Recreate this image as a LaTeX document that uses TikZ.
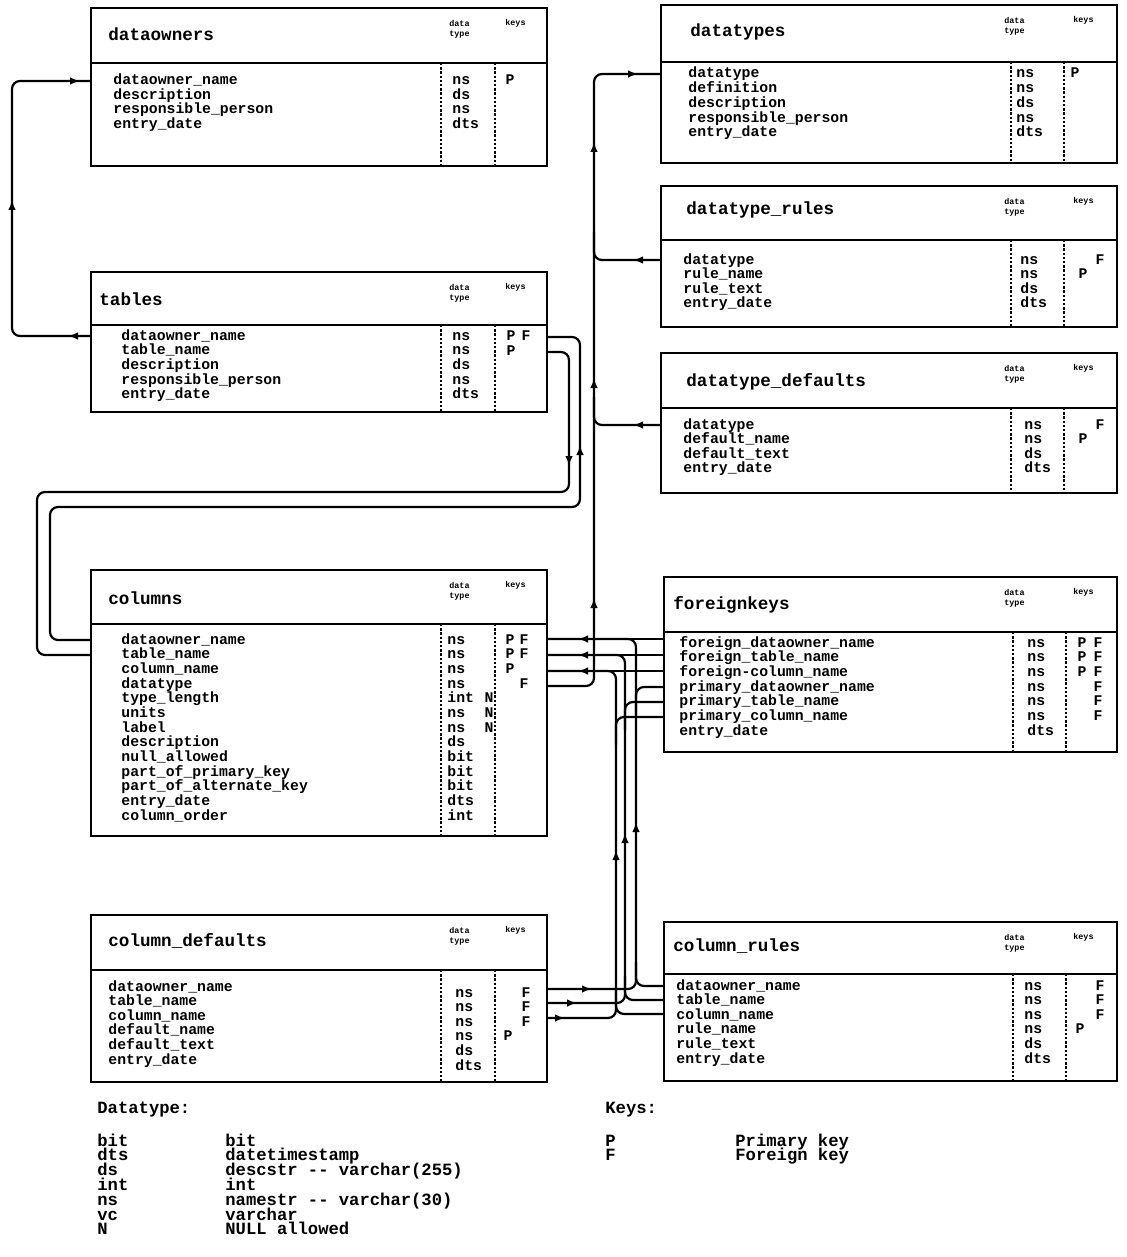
\documentclass[tikz,border=0pt]{standalone}
\usepackage{fontspec}
\setmonofont{Liberation Mono}
\usetikzlibrary{arrows.meta}
\tikzset{
 boxline/.style={line width=1.2pt},
 divline/.style={line width=0.7pt, dash pattern=on 1.2pt off 0.9pt},
 conn/.style={line width=1.1pt, rounded corners=4pt},
 tipline/.style={line width=1.1pt, -{Latex[length=5pt,width=3.8pt]}},
 ttl/.style={anchor=west, inner sep=0pt, font=\ttfamily\bfseries\fontsize{8.8}{9}\selectfont},
 rowt/.style={anchor=base west, inner sep=0pt, font=\ttfamily\bfseries\fontsize{7.4}{8}\selectfont},
 hdrt/.style={anchor=north west, inner sep=0pt, align=left, font=\ttfamily\bfseries\fontsize{4.2}{4.8}\selectfont},
 keyt/.style={anchor=base, inner sep=0pt, font=\ttfamily\bfseries\fontsize{7.4}{8}\selectfont},
 legt/.style={anchor=base west, inner sep=0pt, font=\ttfamily\bfseries\fontsize{8.6}{9}\selectfont},
}
% #1 prefix, #2 x1, #3 top, #4 header line, #5 x2, #6 bottom, #7 divider 1, #8 divider 2
\newcommand{\erbox}[8]{%
 \draw[boxline] (#2,#3) rectangle (#5,#6);
 \draw[boxline] (#2,#4) -- (#5,#4);
 \draw[divline] (#7,#4) -- (#7,#6);
 \draw[divline] (#8,#4) -- (#8,#6);
 \node[hdrt] (#1-hd) at (\datax,{#3+12}) {data\\type};
 \node[hdrt] (#1-hk) at (\keysx,{#3+11}) {keys};
}
% #1 name prefix, #2 x, #3 first y (text centre), #4 step, #5 list
\newcommand{\ercol}[5]{%
 \foreach \t [count=\i] in {#5} {\node[rowt] (#1\i) at (#2,{#3+4+(\i-1)*#4}) {\t};}
}
\newcommand{\lgcol}[5]{%
 \foreach \t [count=\i] in {#5} {\node[legt] (#1\i) at (#2,{#3+5+(\i-1)*#4}) {\t};}
}
% key letter at text centre
\newcommand{\keyat}[4]{\node[keyt] (#1) at (#2,{#3+4}) {#4};}
\newcommand{\arrowat}[4]{\draw[tipline] (#1,#2) -- ++(#3,#4);}
\begin{document}
\begin{tikzpicture}[x=0.5pt,y=-0.5pt]
\fill[white] (0,0) rectangle (1127,1257);
\useasboundingbox (0,0) rectangle (1127,1257);

% ---------------- left tables ----------------
\def\datax{449}\def\keysx{505}
% dataowners
\erbox{dto}{91}{8}{63}{547}{166}{441}{495}
\node[ttl] (dto-t) at (108,34) {dataowners};
\ercol{dto-n}{113}{81}{14.5}{dataowner\_name,description,responsible\_person,entry\_date}
\ercol{dto-d}{452}{81}{14.5}{ns,ds,ns,dts}
\keyat{dto-k1}{510}{81}{P}

% tables
\erbox{tbl}{91}{272}{325}{547}{412}{441}{495}
\node[ttl] (tbl-t) at (99,299) {tables};
\ercol{tbl-n}{121}{336}{14.7}{dataowner\_name,table\_name,description,responsible\_person,entry\_date}
\ercol{tbl-d}{452}{336}{14.7}{ns,ns,ds,ns,dts}
\keyat{tbl-k1}{511}{336}{P}
\keyat{tbl-k2}{526}{336}{F}
\keyat{tbl-k3}{511}{351}{P}

% columns
\erbox{col}{91}{570}{624}{547}{836}{441}{495}
\node[ttl] (col-t) at (108,598) {columns};
\ercol{col-n}{121}{640}{14.67}{dataowner\_name,table\_name,column\_name,datatype,type\_length,units,label,description,null\_allowed,part\_of\_primary\_key,part\_of\_alternate\_key,entry\_date,column\_order}
\ercol{col-d}{447}{640}{14.67}{ns,ns,ns,ns,int,ns,ns,ds,bit,bit,bit,dts,int}
\keyat{col-nn1}{489}{698.7}{N}
\keyat{col-nn2}{489}{713.4}{N}
\keyat{col-nn3}{489}{728}{N}
\keyat{col-k1}{510}{640}{P}
\keyat{col-k2}{524}{640}{F}
\keyat{col-k3}{510}{654.7}{P}
\keyat{col-k4}{524}{654.7}{F}
\keyat{col-k5}{510}{669.3}{P}
\keyat{col-k6}{524}{684}{F}

% column_defaults
\erbox{cd}{91}{915}{970}{547}{1082}{441}{495}
\node[ttl] (cd-t) at (108,941) {column\_defaults};
\ercol{cd-n}{108}{987}{14.6}{dataowner\_name,table\_name,column\_name,default\_name,default\_text,entry\_date}
\ercol{cd-d}{455}{993}{14.6}{ns,ns,ns,ns,ds,dts}
\keyat{cd-k1}{526}{993}{F}
\keyat{cd-k2}{526}{1007.6}{F}
\keyat{cd-k3}{526}{1022.2}{F}
\keyat{cd-k4}{508}{1036.8}{P}

% ---------------- right tables ----------------
\def\datax{1004}\def\keysx{1073}
% datatypes
\erbox{dt}{661}{5}{62}{1117}{163}{1011}{1064}
\node[ttl] (dt-t) at (690,32) {datatypes};
\ercol{dt-n}{688}{74}{14.7}{datatype,definition,description,responsible\_person,entry\_date}
\ercol{dt-d}{1016}{74}{14.7}{ns,ns,ds,ns,dts}
\keyat{dt-k1}{1075}{74}{P}

% datatype_rules
\erbox{dtr}{661}{186}{240}{1117}{327}{1011}{1064}
\node[ttl] (dtr-t) at (686,210) {datatype\_rules};
\ercol{dtr-n}{683}{260}{14.5}{datatype,rule\_name,rule\_text,entry\_date}
\ercol{dtr-d}{1020}{260}{14.5}{ns,ns,ds,dts}
\keyat{dtr-k1}{1100}{260}{F}
\keyat{dtr-k2}{1083}{274.5}{P}

% datatype_defaults
\erbox{dtd}{661}{353}{408}{1117}{493}{1011}{1064}
\node[ttl] (dtd-t) at (686,382) {datatype\_defaults};
\ercol{dtd-n}{683}{425}{14.5}{datatype,default\_name,default\_text,entry\_date}
\ercol{dtd-d}{1024}{425}{14.5}{ns,ns,ds,dts}
\keyat{dtd-k1}{1100}{425}{F}
\keyat{dtd-k2}{1083}{439.5}{P}

% foreignkeys
\erbox{fk}{664}{577}{632}{1117}{752}{1013}{1066}
\node[ttl] (fk-t) at (673,605) {foreignkeys};
\ercol{fk-n}{679}{643}{14.7}{foreign\_dataowner\_name,foreign\_table\_name,foreign-column\_name,primary\_dataowner\_name,primary\_table\_name,primary\_column\_name,entry\_date}
\ercol{fk-d}{1027}{643}{14.7}{ns,ns,ns,ns,ns,ns,dts}
\foreach \r [count=\i] in {643,657.7,672.4} {\keyat{fk-kp\i}{1082}{\r}{P}}
\foreach \r [count=\i] in {643,657.7,672.4,687.1,701.8,716.5} {\keyat{fk-kf\i}{1098}{\r}{F}}

% column_rules
\erbox{cr}{664}{922}{974}{1117}{1081}{1013}{1066}
\node[ttl] (cr-t) at (673,946) {column\_rules};
\ercol{cr-n}{676}{986}{14.6}{dataowner\_name,table\_name,column\_name,rule\_name,rule\_text,entry\_date}
\ercol{cr-d}{1024}{986}{14.6}{ns,ns,ns,ns,ds,dts}
\foreach \r [count=\i] in {986,1000.6,1015.2} {\keyat{cr-kf\i}{1100}{\r}{F}}
\keyat{cr-kp}{1080}{1029.8}{P}

% ---------------- ports ----------------
\coordinate (dto-own-w) at (91,81);
\coordinate (tbl-own-w) at (91,336);
\coordinate (tbl-own-e) at (547,337);
\coordinate (tbl-tab-e) at (547,352);
\coordinate (col-own-w) at (91,640);
\coordinate (col-tab-w) at (91,655);
\coordinate (col-own-e) at (547,639);
\coordinate (col-tab-e) at (547,655);
\coordinate (col-cn-e) at (547,671);
\coordinate (col-dt-e) at (547,686);
\coordinate (dt-dt-w) at (661,74);
\coordinate (dtr-dt-w) at (661,260);
\coordinate (dtd-dt-w) at (661,425);
\coordinate (fk-fo-w) at (664,639);
\coordinate (fk-ft-w) at (664,655);
\coordinate (fk-fc-w) at (664,671);
\coordinate (fk-po-w) at (664,687);
\coordinate (fk-pt-w) at (664,702);
\coordinate (fk-pc-w) at (664,717);
\coordinate (cr-own-w) at (664,986);
\coordinate (cr-tab-w) at (664,1000);
\coordinate (cr-cn-w) at (664,1014);
\coordinate (cd-own-e) at (547,989);
\coordinate (cd-tab-e) at (547,1003);
\coordinate (cd-cn-e) at (547,1018);

% ---------------- connectors ----------------
% tables -> dataowners
\draw[conn] (tbl-own-w) -- (12,336) -- (12,81) -- (dto-own-w);
\arrowat{76}{336}{-8}{0}
\arrowat{12}{208}{0}{-8}
\arrowat{72}{81}{8}{0}

% datatype references
\draw[conn] (col-dt-e) -- (594,686) -- (594,74) -- (dt-dt-w);
\draw[conn] (dtr-dt-w) -- (594,260) -- (594,232);
\draw[conn] (dtd-dt-w) -- (594,425) -- (594,397);
\arrowat{630}{74}{8}{0}
\arrowat{594}{150}{0}{-8}
\arrowat{594}{386}{0}{-8}
\arrowat{594}{606}{0}{-8}
\arrowat{641}{260}{-8}{0}
\arrowat{641}{425}{-8}{0}

% columns -> tables
\draw[conn] (col-tab-w) -- (37,655) -- (37,492) -- (569,492) -- (569,352) -- (tbl-tab-e);
\draw[conn] (col-own-w) -- (50,640) -- (50,507) -- (580,507) -- (580,337) -- (tbl-own-e);
\arrowat{569}{458}{0}{8}
\arrowat{580}{453}{0}{-8}

% foreignkeys -> columns
\draw[conn] (fk-fo-w) -- (col-own-e);
\draw[conn] (fk-ft-w) -- (col-tab-e);
\draw[conn] (fk-fc-w) -- (col-cn-e);
\arrowat{586}{639}{-8}{0}
\arrowat{586}{655}{-8}{0}
\arrowat{586}{671}{-8}{0}

% dataowner_name bus
\draw[conn] (cr-own-w) -- (636,986) -- (636,639) -- (col-own-e);
\draw[conn] (cd-own-e) -- (636,989) -- (636,962);
\draw[conn] (fk-po-w) -- (636,687) -- (636,715);
% table_name bus
\draw[conn] (cr-tab-w) -- (625,1000) -- (625,655) -- (col-tab-e);
\draw[conn] (cd-tab-e) -- (625,1003) -- (625,976);
\draw[conn] (fk-pt-w) -- (625,702) -- (625,730);
% column_name bus
\draw[conn] (cr-cn-w) -- (616,1014) -- (616,671) -- (col-cn-e);
\draw[conn] (cd-cn-e) -- (616,1018) -- (616,990);
\draw[conn] (fk-pc-w) -- (616,717) -- (616,745);
\arrowat{636}{830}{0}{-8}
\arrowat{625}{841}{0}{-8}
\arrowat{616}{858}{0}{-8}
\arrowat{584}{989}{8}{0}
\arrowat{569}{1003}{8}{0}
\arrowat{557}{1018}{8}{0}

% ---------------- legend ----------------
\node[legt] (lg-dt) at (97,1113) {Datatype:};
\node[legt] (lg-k) at (605,1113) {Keys:};
\lgcol{lg-a}{97}{1141}{14.8}{bit,dts,ds,int,ns,vc,N}
\lgcol{lg-b}{225}{1141}{14.8}{bit,datetimestamp,descstr -{}- varchar(255),int,namestr -{}- varchar(30),varchar,NULL allowed}
\lgcol{lg-c}{605}{1141}{14.8}{P,F}
\lgcol{lg-e}{735}{1141}{14.8}{Primary key,Foreign key}
\end{tikzpicture}
\end{document}
